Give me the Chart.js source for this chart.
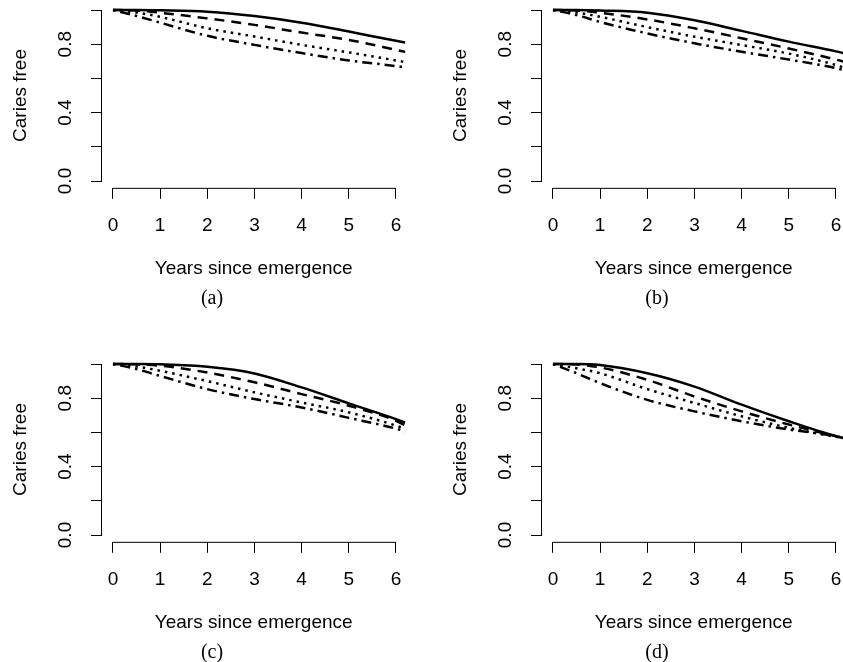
<!DOCTYPE html>
<html>
<head>
<meta charset="utf-8">
<script src="https://cdn.jsdelivr.net/npm/chart.js@4.4.1/dist/chart.umd.min.js"></script>
<style>
  body { margin: 0; background: #fff; overflow: hidden; }
  #wrap { position: relative; width: 843px; height: 662px; overflow: hidden; }
  .panel { position: absolute; }
  .tag { position: absolute; width: 60px; text-align: center; font: 20px "Liberation Serif", "DejaVu Serif", serif; color: #000; }
</style>
</head>
<body>
<div id="wrap"></div>
<script>
const years = [0, 0.5, 1, 2, 3, 4, 5, 6, 6.2];
const xTicks = [0, 1, 2, 3, 4, 5, 6];
const yTicks = [0, 0.2, 0.4, 0.6, 0.8, 1.0];
const yTickLabels = ['0.0', '', '0.4', '', '0.8', ''];
const panelTags = ['(a)', '(b)', '(c)', '(d)'];

// panel (a)
const solidA   = [1, 1, 0.998, 0.99, 0.965, 0.926, 0.874, 0.82, 0.81];
const dashedA  = [1, 0.997, 0.984, 0.951, 0.913, 0.868, 0.825, 0.767, 0.755];
const dottedA  = [1, 0.985, 0.96, 0.893, 0.845, 0.796, 0.752, 0.705, 0.695];
const dotdashA = [1, 0.965, 0.926, 0.849, 0.796, 0.748, 0.705, 0.672, 0.664];
// panel (b)
const solidB   = [1, 1, 0.997, 0.984, 0.94, 0.878, 0.815, 0.758, 0.745];
const dashedB  = [1, 0.997, 0.984, 0.945, 0.893, 0.835, 0.775, 0.71, 0.695];
const dottedB  = [1, 0.985, 0.96, 0.90, 0.844, 0.795, 0.745, 0.678, 0.66];
const dotdashB = [1, 0.97, 0.93, 0.863, 0.805, 0.756, 0.71, 0.66, 0.645];
// panel (c)
const solidC   = [1, 1, 0.998, 0.984, 0.945, 0.863, 0.77, 0.678, 0.658];
const dashedC  = [1, 0.998, 0.99, 0.95, 0.893, 0.824, 0.756, 0.668, 0.64];
const dottedC  = [1, 0.985, 0.96, 0.90, 0.834, 0.775, 0.717, 0.64, 0.62];
const dotdashC = [1, 0.97, 0.93, 0.853, 0.795, 0.746, 0.685, 0.622, 0.605];
// panel (d)
const solidD   = [1, 1, 0.994, 0.946, 0.868, 0.762, 0.665, 0.578, 0.565];
const dashedD  = [1, 0.997, 0.98, 0.907, 0.81, 0.723, 0.646, 0.578, 0.565];
const dottedD  = [1, 0.975, 0.946, 0.853, 0.772, 0.694, 0.627, 0.574, 0.565];
const dotdashD = [1, 0.946, 0.888, 0.79, 0.723, 0.665, 0.617, 0.578, 0.565];

const panels = [
    [solidA, dashedA, dottedA, dotdashA],
    [solidB, dashedB, dottedB, dotdashB],
    [solidC, dashedC, dottedC, dotdashC],
    [solidD, dashedD, dottedD, dotdashD]
];

const dashes = [[], [10, 7], [2.5, 5], [2.5, 5, 10, 5]];
const W = 440, H = 355;
const font = { family: '"Liberation Sans", Arial, sans-serif', size: 19 };

// R style axis lines: only from first to last tick
const axisLines = {
    id: 'axisLines',
    afterDraw(chart) {
        const { ctx, scales: { x, y } } = chart;
        ctx.save();
        ctx.strokeStyle = '#000';
        ctx.lineWidth = 1;
        ctx.beginPath();
        ctx.moveTo(x.getPixelForValue(xTicks[0]), x.top + 0.5);
        ctx.lineTo(x.getPixelForValue(xTicks[xTicks.length - 1]), x.top + 0.5);
        ctx.moveTo(y.right - 0.5, y.getPixelForValue(yTicks[0]));
        ctx.lineTo(y.right - 0.5, y.getPixelForValue(yTicks[yTicks.length - 1]));
        ctx.stroke();
        ctx.restore();
    }
};

const wrap = document.getElementById('wrap');

panels.forEach((series, i) => {
    const col = i % 2;
    const left = col * 440;
    const top = Math.floor(i / 2) * 354;

    const canvas = document.createElement('canvas');
    canvas.className = 'panel';
    canvas.width = W;
    canvas.height = H;
    canvas.style.left = left + 'px';
    canvas.style.top = top + 'px';
    wrap.appendChild(canvas);

    const tag = document.createElement('div');
    tag.className = 'tag';
    tag.textContent = panelTags[i];
    tag.style.left = (col ? 657 - 30 : 212 - 30) + 'px';
    tag.style.top = (top + 286) + 'px';
    wrap.appendChild(tag);

    new Chart(canvas.getContext('2d'), {
        type: 'line',
        data: {
            datasets: series.map((vals, k) => ({
                data: years.map((yr, j) => ({ x: yr, y: vals[j] })),
                borderColor: '#000',
                borderWidth: 2.5,
                borderDash: dashes[k],
                borderCapStyle: 'butt',
                pointRadius: 0,
                cubicInterpolationMode: 'monotone'
            }))
        },
        options: {
            responsive: false,
            animation: false,
            events: [],
            layout: { padding: { left: 0, top: 3.16, right: W - 405.4, bottom: 0 } },
            plugins: { legend: { display: false }, tooltip: { enabled: false } },
            scales: {
                x: {
                    type: 'linear',
                    min: -0.233,
                    max: 6.2,
                    afterBuildTicks: s => { s.ticks = xTicks.map(v => ({ value: v })); },
                    afterFit: s => { s.height = H - 187.84; s.paddingLeft = 0; s.paddingRight = 0; },
                    border: { display: false },
                    grid: { drawOnChartArea: false, drawTicks: true, tickLength: 11, color: '#000', lineWidth: 1 },
                    ticks: { color: '#000', font: font, padding: 16, autoSkip: false, maxRotation: 0 },
                    title: { display: true, text: 'Years since emergence', color: '#000', font: font, padding: { top: 0, bottom: 75 } }
                },
                y: {
                    type: 'linear',
                    min: -0.04,
                    max: 1.04,
                    afterBuildTicks: s => { s.ticks = yTicks.map(v => ({ value: v })); },
                    afterFit: s => { s.width = 102; s.paddingTop = 0; s.paddingBottom = 0; },
                    border: { display: false },
                    grid: { drawOnChartArea: false, drawTicks: true, tickLength: 11, color: '#000', lineWidth: 1 },
                    ticks: {
                        color: '#000', font: font, padding: 12, autoSkip: false,
                        minRotation: 90, maxRotation: 90, crossAlign: 'center',
                        callback: (v, idx) => yTickLabels[idx]
                    },
                    title: { display: true, text: 'Caries free', color: '#000', font: font, padding: { top: 9, bottom: 0 } }
                }
            }
        },
        plugins: [axisLines]
    });
});
</script>
</body>
</html>
